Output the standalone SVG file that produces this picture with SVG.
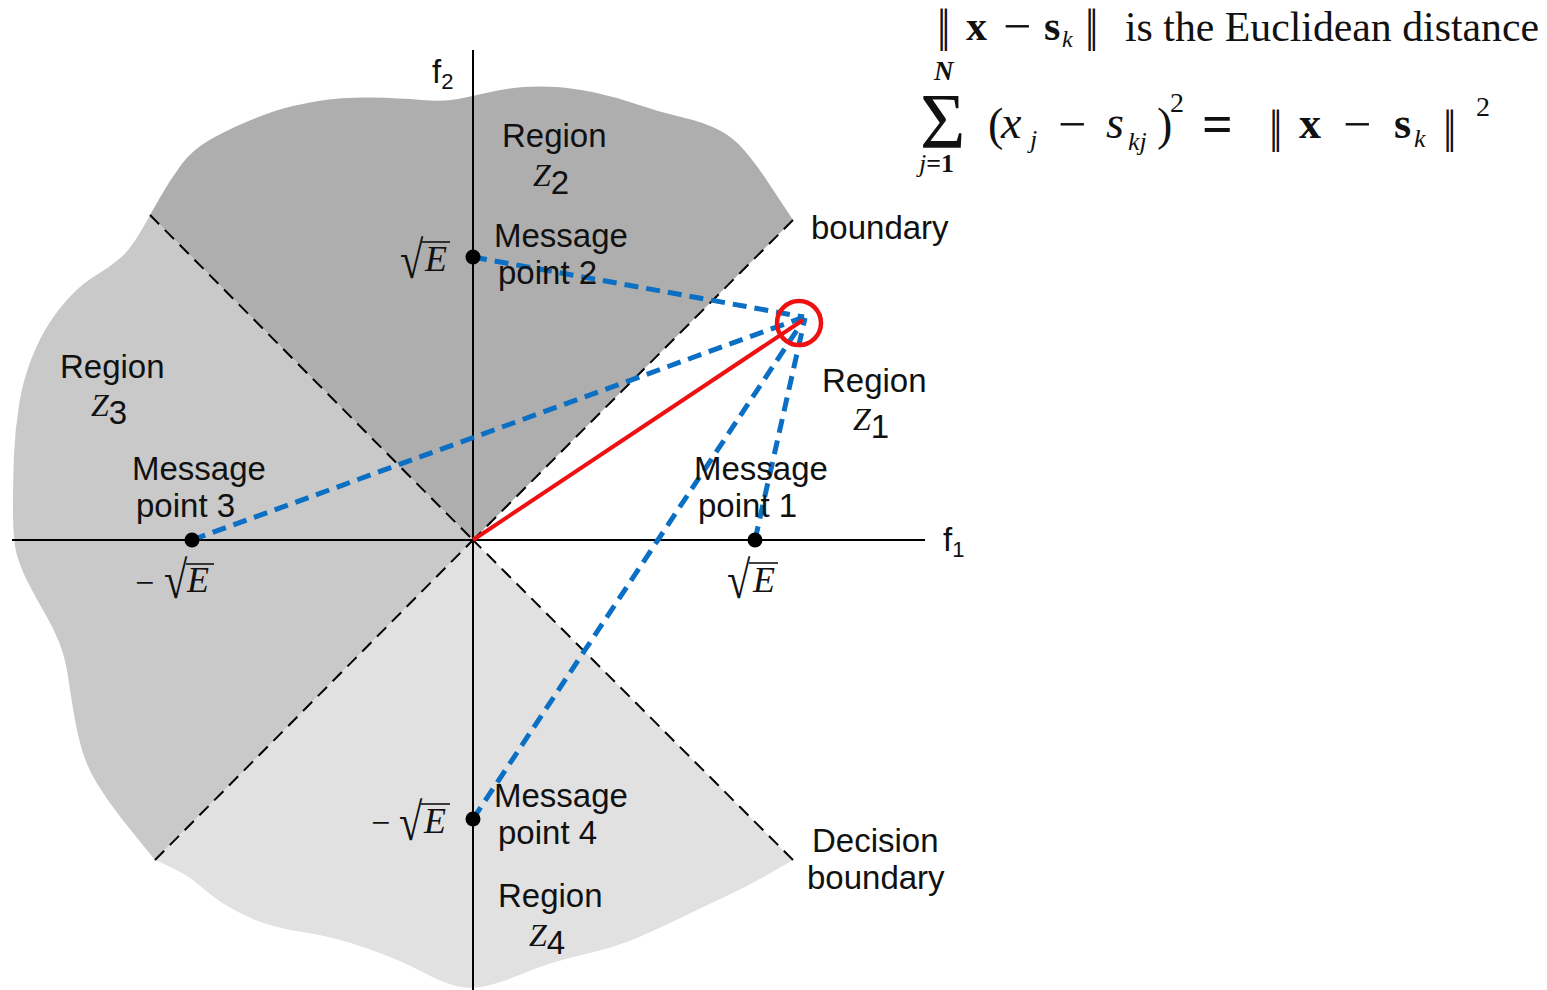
<svg xmlns="http://www.w3.org/2000/svg" width="1547" height="990" viewBox="0 0 1547 990">
<style>
.sans{font-family:"Liberation Sans",Arial,sans-serif;font-size:33px;fill:#111}
.ser{font-family:"Liberation Serif","Times New Roman",serif;fill:#111}
.it{font-style:italic}
.b{font-weight:bold}
.axis{stroke:#000;stroke-width:2;fill:none}
.bound{stroke:#000;stroke-width:2;stroke-dasharray:13 8;fill:none}
.dist{stroke:#0b6fc4;stroke-width:5;stroke-dasharray:14 8;fill:none}
.dot{fill:#000}
.vinc{stroke:#111;stroke-width:1.6}
.rad{font-family:"Liberation Serif","DejaVu Serif",serif;font-size:34px;fill:#111}
.nrm{font-family:"Liberation Serif","Times New Roman",serif;font-size:46px;fill:#111}
.minus{font-family:"Liberation Serif","Times New Roman",serif;font-size:50px;fill:#111}
</style>
<g id="regions">
<path id="regionZ2" fill="#aeaeae" d="M473,540 L793,220 Q770,185 762.5,174 Q755,163 744,150 Q733,137 718,129.5 Q703,122 681,117 Q659,112 637.5,104.5 Q616,97 594.5,92.5 Q573,88 556.5,87 Q540,86 524,87 Q508,88 490.5,92 Q473,96 458,99 Q443,102 421.5,100 Q400,98 371.5,97.5 Q343,97 321.5,100.5 Q300,104 285,108 Q270,112 248.5,121 Q227,130 209.5,140 Q192,150 181,165 Q170,180 160,197.5 L150,215 Z"/>
<path id="regionZ3" fill="#c9c9c9" d="M473,540 L150,215 Q133,247 121.5,257 Q110,267 96.5,275 Q83,283 71.5,295 Q60,307 50,322 Q40,337 31.5,358.5 Q23,380 19,405 Q15,430 14,455 Q13,480 13,510 Q13,540 16.5,553.5 Q20,567 28.5,583.5 Q37,600 45,613.5 Q53,627 59,642 Q65,657 67.5,673.5 Q70,690 73.5,711.5 Q77,733 82,750 Q87,767 97,783.5 Q107,800 120,816.5 Q133,833 144,846.5 L155,860 Z"/>
<path id="regionZ4" fill="#e1e1e1" d="M473,540 L155,860 Q183,872 194,881 Q205,890 216,898.5 Q227,907 248.5,917 Q270,927 302.5,932 Q335,937 367.5,948.5 Q400,960 421.5,971.5 Q443,983 458,986.5 Q473,990 490.5,985 Q508,980 529.5,971 Q551,962 583.5,954.5 Q616,947 638,937.5 Q660,928 681.5,917.5 Q703,907 726.5,896 Q750,885 771.5,872.5 L793,860 Z"/>
</g>
<g id="boundaries">
<line class="bound" x1="150" y1="215" x2="473" y2="540"/>
<line class="bound" x1="793" y1="220" x2="473" y2="540"/>
<line class="bound" x1="155" y1="860" x2="473" y2="540"/>
<line class="bound" x1="793" y1="860" x2="473" y2="540"/>
</g>
<g id="axes">
<line class="axis" x1="12" y1="540" x2="925" y2="540"/>
<line class="axis" x1="473" y1="50" x2="473" y2="990"/>
<text class="sans" x="943" y="551" font-size="31">f<tspan font-size="22" dy="6">1</tspan></text>
<text class="sans" x="432" y="83" font-size="31">f<tspan font-size="22" dy="6">2</tspan></text>
</g>
<g id="connectors">
<line class="dist" x1="473" y1="257" x2="804" y2="317"/>
<line class="dist" x1="192" y1="540" x2="804" y2="317"/>
<line class="dist" x1="755" y1="540" x2="805" y2="318"/>
<line class="dist" x1="473" y1="819" x2="805" y2="318"/>
<line x1="473" y1="540" x2="803" y2="320" stroke="#ee1111" stroke-width="4"/>
</g>
<g id="received">
<circle cx="799" cy="323" r="22" fill="none" stroke="#ee1111" stroke-width="4.5"/>
</g>
<g id="point1">
<circle class="dot" cx="755" cy="540" r="7.5"/>
<text class="sans" x="694" y="480">Message</text>
<text class="sans" x="698" y="517">point 1</text>
<text class="rad" transform="translate(727,598) scale(1.25,1.55)">√</text>
<line class="vinc" x1="749" y1="563" x2="778" y2="563"/>
<text class="ser it" x="753" y="592" font-size="36">E</text>
</g>
<g id="point2">
<circle class="dot" cx="473" cy="257" r="7.5"/>
<text class="sans" x="494" y="247">Message</text>
<text class="sans" x="498" y="284">point 2</text>
<text class="rad" transform="translate(400,278) scale(1.25,1.55)">√</text>
<line class="vinc" x1="422" y1="242" x2="450" y2="242"/>
<text class="ser it" x="425" y="271" font-size="36">E</text>
</g>
<g id="point3">
<circle class="dot" cx="192" cy="540" r="7.5"/>
<text class="sans" x="132" y="480">Message</text>
<text class="sans" x="136" y="517">point 3</text>
<text class="ser" x="135" y="594" font-size="34">−</text>
<text class="rad" transform="translate(164,598) scale(1.25,1.55)">√</text>
<line class="vinc" x1="186" y1="564" x2="214" y2="564"/>
<text class="ser it" x="187" y="592" font-size="36">E</text>
</g>
<g id="point4">
<circle class="dot" cx="473" cy="819" r="7.5"/>
<text class="sans" x="494" y="807">Message</text>
<text class="sans" x="498" y="844">point 4</text>
<text class="ser" x="371" y="834" font-size="34">−</text>
<text class="rad" transform="translate(399,840) scale(1.25,1.55)">√</text>
<line class="vinc" x1="421" y1="804" x2="450" y2="804"/>
<text class="ser it" x="424" y="833" font-size="36">E</text>
</g>
<g id="labelZ1">
<text class="sans" x="822" y="392">Region</text>
<text class="ser it" x="853" y="430" font-size="32">Z<tspan class="sans" font-size="22" dy="8" font-style="normal">1</tspan></text>
</g>
<g id="labelZ2">
<text class="sans" x="502" y="147">Region</text>
<text class="ser it" x="533" y="186" font-size="32">Z<tspan class="sans" font-size="22" dy="8" font-style="normal">2</tspan></text>
</g>
<g id="labelZ3">
<text class="sans" x="60" y="378">Region</text>
<text class="ser it" x="91" y="416" font-size="32">Z<tspan class="sans" font-size="22" dy="8" font-style="normal">3</tspan></text>
</g>
<g id="labelZ4">
<text class="sans" x="498" y="907">Region</text>
<text class="ser it" x="529" y="946" font-size="32">Z<tspan class="sans" font-size="22" dy="8" font-style="normal">4</tspan></text>
</g>
<g id="boundaryLabelTop">
<text class="sans" x="811" y="239">boundary</text>
</g>
<g id="boundaryLabelBottom">
<text class="sans" x="812" y="852">Decision</text>
<text class="sans" x="807" y="889">boundary</text>
</g>
<g id="formula1" class="ser" font-size="38">
<text class="nrm" x="937" y="41" letter-spacing="-5">||</text>
<text class="b" x="966" y="40" font-size="42">x</text>
<text class="minus" x="1003" y="43">−</text>
<text class="b" x="1044" y="40" font-size="42">s</text>
<text class="it" x="1062" y="47" font-size="24">k</text>
<text class="nrm" x="1085" y="41" letter-spacing="-5">||</text>
<text x="1125" y="41" font-size="42" textLength="414" lengthAdjust="spacingAndGlyphs">is the Euclidean distance</text>
</g>
<g id="formula2" class="ser" font-size="40">
<text class="b it" x="934" y="80" font-size="27">N</text>
<text x="920" y="147" font-size="78">Σ</text>
<text x="919" y="172" font-size="26"><tspan class="it">j</tspan><tspan class="b">=1</tspan></text>
<text x="988" y="140" font-size="46">(</text>
<text class="it" x="1001" y="138" font-size="46">x</text>
<text class="it" x="1030" y="148" font-size="26">j</text>
<text class="minus" x="1058" y="141">−</text>
<text class="it" x="1106" y="138" font-size="46">s</text>
<text class="it" x="1128" y="150" font-size="26">kj</text>
<text x="1157" y="140" font-size="46">)</text>
<text x="1170" y="112" font-size="28">2</text>
<text class="b" x="1202" y="142" font-size="54">=</text>
<text class="nrm" x="1269" y="142" letter-spacing="-5">||</text>
<text class="b" x="1299" y="138" font-size="44">x</text>
<text class="minus" x="1343" y="141">−</text>
<text class="b" x="1394" y="138" font-size="44">s</text>
<text class="it" x="1414" y="147" font-size="26">k</text>
<text class="nrm" x="1443" y="142" letter-spacing="-5">||</text>
<text x="1476" y="116" font-size="28">2</text>
</g>
</svg>
